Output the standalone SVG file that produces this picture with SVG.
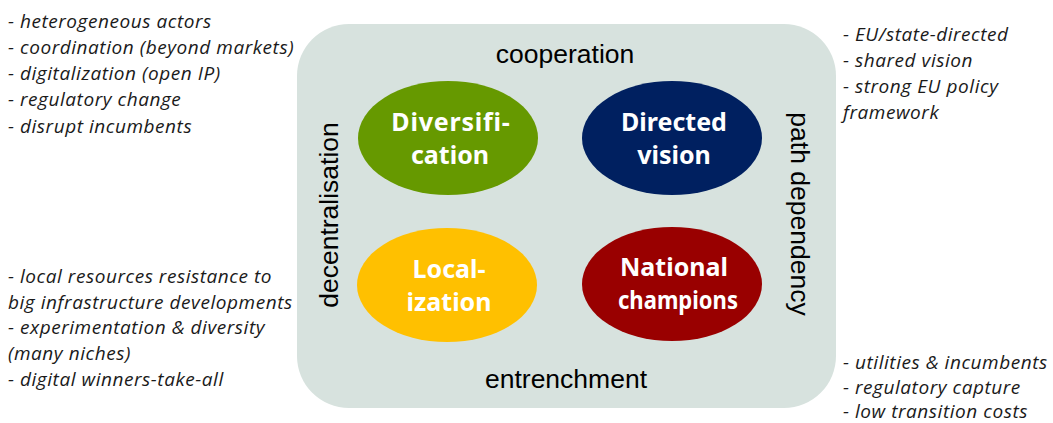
<svg xmlns="http://www.w3.org/2000/svg" width="1053" height="423" viewBox="0 0 1053 423">
  <style>
    .note { font-family: "Open Sans", "Noto Sans", sans-serif; font-style: italic; font-size: 19px; letter-spacing: 0.55px; fill: #1a1a1a; }
    .axis { font-family: "Liberation Sans", Arial, sans-serif; font-size: 26.5px; fill: #000; text-anchor: middle; }
    .lbl { font-family: "Comic Sans MS", "Noto Sans", sans-serif; font-weight: bold; font-size: 25px; fill: #fff; text-anchor: middle; }
  </style>

  <!-- background panel -->
  <rect x="297" y="24" width="539" height="384" rx="52" ry="52" fill="#d7e2de"/>

  <!-- axis labels -->
  <text class="axis" x="565" y="63">cooperation</text>
  <text class="axis" x="566" y="388">entrenchment</text>
  <text class="axis" transform="translate(338,215) rotate(-90)">decentralisation</text>
  <text class="axis" transform="translate(791,214) rotate(90)">path dependency</text>

  <g id="connectors"></g>

  <g id="diversification">
    <ellipse cx="448" cy="138" rx="90" ry="57" fill="#669900"/>
    <text class="lbl" x="451" y="131" letter-spacing="0.8">Diversifi-</text>
    <text class="lbl" x="450" y="164">cation</text>
  </g>
  <g id="directed-vision">
    <ellipse cx="672" cy="138" rx="90" ry="57" fill="#002060"/>
    <text class="lbl" x="674" y="131">Directed</text>
    <text class="lbl" x="674" y="164">vision</text>
  </g>
  <g id="localization">
    <ellipse cx="447" cy="285" rx="90" ry="57" fill="#ffc000"/>
    <text class="lbl" x="449" y="278">Local-</text>
    <text class="lbl" x="449" y="311">ization</text>
  </g>
  <g id="national-champions">
    <ellipse cx="672" cy="284" rx="90" ry="57" fill="#990000"/>
    <text class="lbl" x="674" y="276">National</text>
    <text class="lbl" x="678" y="309" textLength="120" lengthAdjust="spacingAndGlyphs">champions</text>
  </g>

  <!-- side notes -->
  <g id="notes-top-left">
    <text class="note" x="8" y="28">- heterogeneous actors</text>
    <text class="note" x="8" y="54">- coordination (beyond markets)</text>
    <text class="note" x="8" y="80">- digitalization (open IP)</text>
    <text class="note" x="8" y="106">- regulatory change</text>
    <text class="note" x="8" y="133">- disrupt incumbents</text>
  </g>
  <g id="notes-top-right">
    <text class="note" x="843" y="41">- EU/state-directed</text>
    <text class="note" x="843" y="67">- shared vision</text>
    <text class="note" x="843" y="93">- strong EU policy</text>
    <text class="note" x="843" y="119">framework</text>
  </g>
  <g id="notes-bottom-left">
    <text class="note" x="8" y="283">- local resources resistance to</text>
    <text class="note" x="8" y="309">big infrastructure developments</text>
    <text class="note" x="8" y="334">- experimentation &amp; diversity</text>
    <text class="note" x="8" y="360">(many niches)</text>
    <text class="note" x="8" y="386">- digital winners-take-all</text>
  </g>
  <g id="notes-bottom-right">
    <text class="note" x="843" y="369">- utilities &amp; incumbents</text>
    <text class="note" x="843" y="394">- regulatory capture</text>
    <text class="note" x="843" y="418">- low transition costs</text>
  </g>
</svg>
